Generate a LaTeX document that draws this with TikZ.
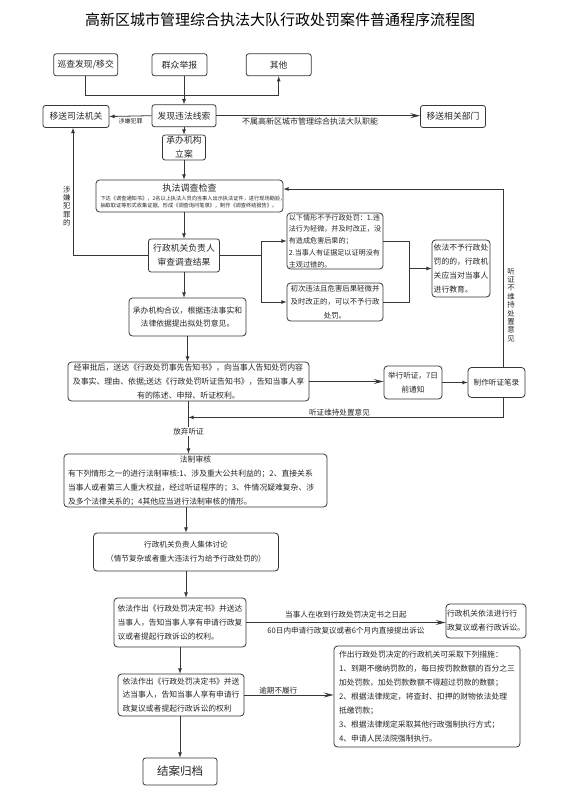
\documentclass[tikz,border=0pt]{standalone}
\usepackage{fontspec}
\setmainfont{Noto Sans CJK SC}
\usepackage{tikz}
\usetikzlibrary{shapes,arrows,arrows.meta,positioning}
\definecolor{ink}{RGB}{55,55,55}
\tikzstyle{box} = [rectangle, draw=ink, line width=0.8pt, rounded corners=3.5pt, align=center, inner sep=1pt, text=black!85, font=\fontsize{7.8}{13.6}\selectfont]
\tikzstyle{head} = [box, rounded corners=2.5pt, font=\fontsize{8.8}{14}\selectfont]
\tikzstyle{lbl} = [inner sep=1pt, text=black!85, font=\fontsize{7.6}{9}\selectfont]
\tikzstyle{slbl} = [inner sep=1pt, text=black!85, font=\fontsize{6}{7}\selectfont]
\tikzstyle{vlbl} = [inner sep=0pt, align=center, text=black!85, font=\fontsize{7.4}{8.4}\selectfont]
\tikzstyle{tedge} = [draw=ink, line width=0.8pt, >=latex, ->]
\tikzstyle{bedge} = [draw=ink, line width=0.8pt, -{Stealth[length=10pt, width=5pt, inset=4pt]}]
\tikzstyle{pedge} = [draw=ink, line width=0.8pt]

\begin{document}
\begin{tikzpicture}[x=1pt, y=-1pt]
\path[use as bounding box, fill=white] (0,0) rectangle (560,800);

% title =============================
\node[font=\fontsize{15}{18}\selectfont] (title) at (280,20) {高新区城市管理综合执法大队行政处罚案件普通程序流程图};

% sources of the case
\node[head, minimum width=64pt, minimum height=22pt] (patrol) at (85.7,64.8) {巡查发现/移交};
\node[head, minimum width=55pt, minimum height=22pt] (report) at (179.5,64.8) {群众举报};
\node[head, minimum width=65pt, minimum height=22pt] (other) at (278.7,64.8) {其他};
\coordinate (merge) at (0,95.7);

% clue and transfer
\node[head, minimum width=64pt, minimum height=22pt] (find) at (184,115.7) {发现违法线索};
\node[head, minimum width=66pt, minimum height=22pt] (judicial) at (76,116.5) {移送司法机关};
\node[head, minimum width=65pt, minimum height=22pt] (dept) at (453,116.5) {移送相关部门};

% filing and investigation
\node[head, minimum width=43pt, minimum height=25pt] (filing) at (184,147.5) {承办机构\\立案};
\node[box, minimum width=187pt, minimum height=32pt, font=\fontsize{9}{9.5}\selectfont] (invest) at (189.5,196)
  {执法调查检查\\
   \parbox[t]{178pt}{\fontsize{5.2}{7.4}\selectfont 下达《调查通知书》，2名以上执法人员向当事人出示执法证件，进行现场勘验，\\
   抽取取证等形式收集证据，形成《调查询问笔录》，制作《调查终结报告》。}};
\node[head, minimum width=71pt, minimum height=33pt] (review) at (184,255.5) {行政机关负责人\\审查调查结果};
\node[vlbl] (crime) at (66.7,206) {涉\\嫌\\犯\\罪\\的};

% no penalty branch
\coordinate (fork) at (261,0);
\node[box, minimum width=96pt, minimum height=56pt, align=left, font=\fontsize{7.1}{11.8}\selectfont] (noneA) at (335,241)
  {以下情形不予行政处罚：1.违\\法行为轻微，并及时改正，没\\有造成危害后果的；\\2.当事人有证据足以证明没有\\主观过错的。};
\node[box, minimum width=96pt, minimum height=38pt, font=\fontsize{7.4}{13.3}\selectfont] (noneB) at (335,302)
  {初次违法且危害后果轻微并\\及时改正的，可以不予行政\\处罚。};
\coordinate (join) at (409,268.5);
\node[box, minimum width=58pt, minimum height=57pt, align=left, font=\fontsize{7.8}{14}\selectfont] (educate) at (461,268.5)
  {依法不予行政处\\罚的的，行政机\\关应当对当事人\\进行教育。};

% penalty notice and hearing
\node[box, minimum width=117pt, minimum height=38pt, font=\fontsize{7.8}{13.3}\selectfont] (council) at (187.5,317)
  {承办机构合议，根据违法事实和\\法律依据提出拟处罚意见。};
\node[box, minimum width=241pt, minimum height=39pt, font=\fontsize{7.9}{13.8}\selectfont] (notice) at (188.5,381.5)
  {经审批后，送达《行政处罚事先告知书》，向当事人告知处罚内容\\及事实、理由、依据;送达《行政处罚听证告知书》，告知当事人享\\有的陈述、申辩、听证权利。};
\node[box, minimum width=58pt, minimum height=33pt, font=\fontsize{7.6}{13.5}\selectfont] (hearing) at (413,382.5) {举行听证，7日\\前通知};
\node[box, minimum width=57pt, minimum height=30pt, font=\fontsize{7.6}{13.5}\selectfont] (record) at (496.5,382.5) {制作听证笔录};
\coordinate (loop) at (503,0);
\path (notice.south) ++(0,16) coordinate (back);
\node[vlbl] (nokeep) at (511,305) {听\\证\\不\\维\\持\\处\\置\\意\\见};

% legal review and decision
\node[box, minimum width=263pt, minimum height=53pt, font=\fontsize{7.8}{14.5}\selectfont] (legal) at (195.5,480.5)
  {法制审核\\
   \parbox[t]{255pt}{\fontsize{7.8}{13.8}\selectfont 有下列情形之一的进行法制审核:1、涉及重大公共利益的；2、直接关系\\
   当事人或者第三人重大权益，经过听证程序的；3、件情况疑难复杂、涉\\
   及多个法律关系的；4其他应当进行法制审核的情形。}};
\node[box, minimum width=185pt, minimum height=38pt, font=\fontsize{7.6}{14}\selectfont] (group) at (186,552)
  {行政机关负责人集体讨论\\（情节复杂或者重大违法行为给予行政处罚的）};
\node[box, minimum width=132pt, minimum height=49pt, align=left, font=\fontsize{7.8}{13.6}\selectfont] (decide1) at (180,622.5)
  {依法作出《行政处罚决定书》并送达\\当事人，告知当事人享有申请行政复\\议或者提起行政诉讼的权利。};
\node[box, minimum width=80pt, minimum height=34pt, align=left, font=\fontsize{7.8}{14}\selectfont] (appeal) at (486,621)
  {行政机关依法进行行\\政复议或者行政诉讼。};
\node[box, minimum width=126pt, minimum height=42pt, align=left, font=\fontsize{7.8}{13.5}\selectfont] (decide2) at (181,695)
  {依法作出《行政处罚决定书》并送\\达当事人，告知当事人享有申请行\\政复议或者提起行政诉讼的权利};
\node[box, minimum width=186pt, minimum height=101pt, align=left, font=\fontsize{7.8}{14}\selectfont] (measures) at (427,696.5)
  {作出行政处罚决定的行政机关可采取下列措施：\\
   1、到期不缴纳罚款的，每日按罚款数额的百分之三\\
   加处罚款，加处罚款数额不得超过罚款的数额；\\
   2、根据法律规定，将查封、扣押的财物依法处理\\
   抵缴罚款；\\
   3、根据法律规定采取其他行政强制执行方式；\\
   4、申请人民法院强制执行。};
\node[head, minimum width=74pt, minimum height=27pt, font=\fontsize{11.5}{13}\selectfont] (close) at (180,771.5) {结案归档};

%edges
\path[tedge] (patrol.south) -- (patrol.south |- merge) -| (other.south);
\path[tedge] (find.north |- report.south) -- (find.north);
\path[tedge] (find.west) -- (judicial.east) node[midway, below=1pt, slbl] {涉嫌犯罪};
\path[bedge] (find.east) -- (find.east -| dept.west) node[pos=0.46, below=1pt, lbl, font=\fontsize{8}{9}\selectfont] {不属高新区城市管理综合执法大队职能};
\path[tedge] (find) -- (filing);
\path[tedge] (filing.south) -- (filing.south |- invest.north);
\path[tedge] (invest.south -| review.north) -- (review.north);
\path[tedge] (review.west) -| (judicial.south -| 73,0);

\path[pedge] (review.east) -- (review.east -| fork);
\path[tedge] (review.east -| fork) |- (noneA.west);
\path[tedge] (review.east -| fork) |- (noneB.west);
\path[pedge] (noneA.east) -| (join);
\path[pedge] (noneB.east) -| (join);
\path[tedge] (join) -- (educate);

\path[tedge] (review.south) -- (review.south |- council.north);
\path[tedge] (council.south) -- (council.south |- notice.north);
\path[bedge] (notice.east) -- (notice.east -| hearing.west);
\path[tedge] (hearing) -- (record);
\path[tedge] (record.north -| loop) |- ([yshift=7pt]invest.east);
\path[tedge] (record.south -| loop) |- (back) node[pos=0.76, above=0pt, lbl] {听证维持处置意见};

\path[tedge] (notice.south) -- (notice.south |- legal.north) node[pos=0.58, lbl, fill=white] {放弃听证};
\path[tedge] (legal.south -| group.north) -- (group.north);
\path[tedge] (group.south) -- (group.south |- decide1.north);
\path[bedge] (decide1.east) -- (decide1.east -| appeal.west)
  node[midway, above=3pt, lbl] {当事人在收到行政处罚决定书之日起}
  node[midway, below=3pt, lbl] {60日内申请行政复议或者6个月内直接提出诉讼};
\path[tedge] (decide1.south) -- (decide1.south |- decide2.north);
\path[bedge] (decide2.east) -- (decide2.east -| measures.west) node[pos=0.38, above=-1pt, lbl] {逾期不履行};
\path[tedge] (decide2.south -| close.north) -- (close.north);

\end{tikzpicture}
\end{document}
